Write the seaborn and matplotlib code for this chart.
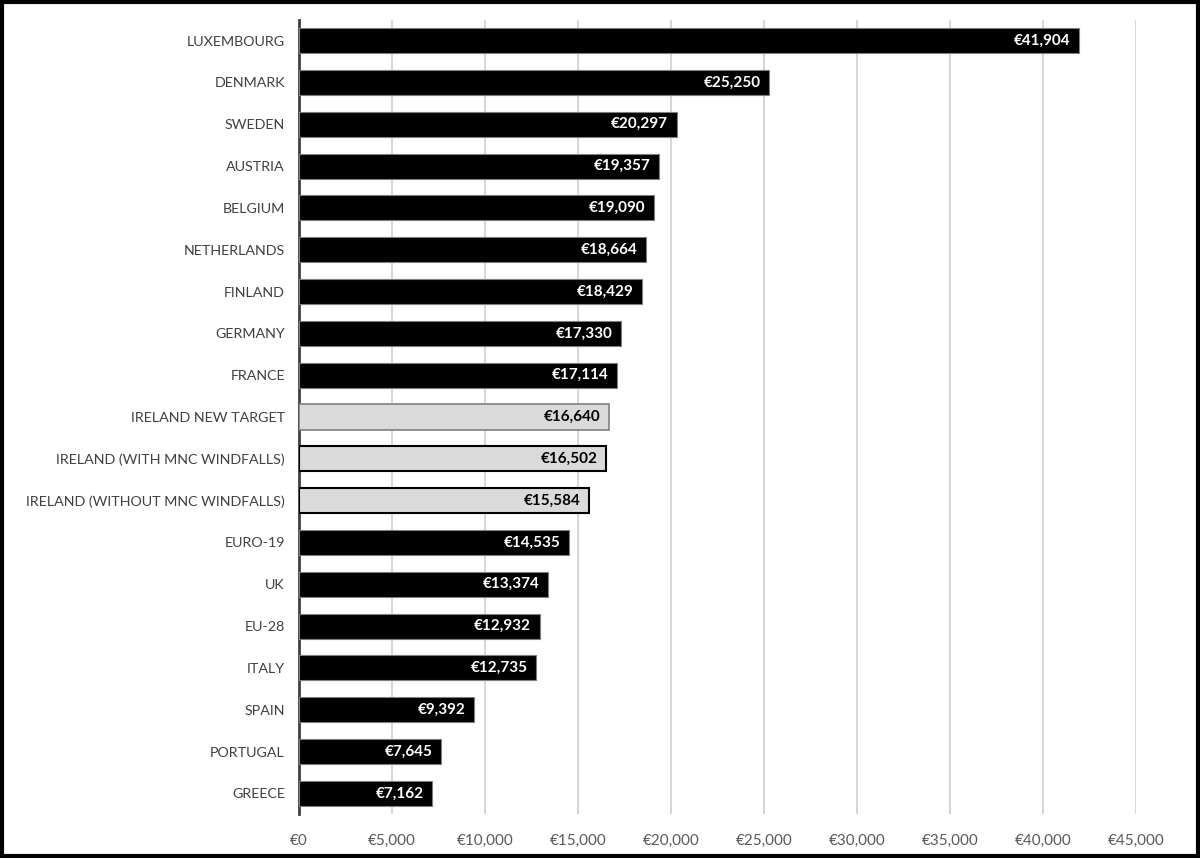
import numpy as np
import pandas as pd
import matplotlib
matplotlib.use("Agg")
import matplotlib.pyplot as plt
import seaborn as sns

# Dados
paises = [
    "LUXEMBOURG", "DENMARK", "SWEDEN", "AUSTRIA", "BELGIUM", "NETHERLANDS",
    "FINLAND", "GERMANY", "FRANCE", "IRELAND NEW TARGET",
    "IRELAND (WITH MNC WINDFALLS)", "IRELAND (WITHOUT MNC WINDFALLS)",
    "EURO-19", "UK", "EU-28", "ITALY", "SPAIN", "PORTUGAL", "GREECE",
]
valores = [
    41904, 25250, 20297, 19357, 19090, 18664, 18429, 17330, 17114, 16640,
    16502, 15584, 14535, 13374, 12932, 12735, 9392, 7645, 7162,
]
irlanda = ["IRELAND NEW TARGET", "IRELAND (WITH MNC WINDFALLS)",
           "IRELAND (WITHOUT MNC WINDFALLS)"]
x_ticks = list(range(0, 45001, 5000))

df = pd.DataFrame({"pais": paises, "valor": valores})
cores = {p: ("#dadada" if p in irlanda else "black") for p in paises}

sns.set_style("white")
plt.rcParams["font.family"] = ["Lato", "DejaVu Sans"]

fig = plt.figure(figsize=(12, 8.58), dpi=100)
ax = fig.add_axes([0.249, 0.051, 0.698, 0.926])

sns.barplot(
    data=df, x="valor", y="pais", hue="pais", palette=cores,
    order=paises, width=0.6, legend=False, ax=ax, zorder=3,
)

# Bordas das barras
for patch, p in zip(ax.patches, paises):
    if p == "IRELAND NEW TARGET":
        patch.set_edgecolor("#7f7f7f")
        patch.set_linewidth(1.2)
    elif p in irlanda:
        patch.set_edgecolor("black")
        patch.set_linewidth(1.5)
    else:
        patch.set_edgecolor("#7f7f7f")
        patch.set_linewidth(0.8)

# Rotulos de valor dentro da ponta das barras
for i, (p, v) in enumerate(zip(paises, valores)):
    ax.text(
        v - 450, i, f"€{v:,}", ha="right", va="center",
        fontsize=11, fontweight="bold",
        color="black" if p in irlanda else "white", zorder=4,
    )

ax.set_xlim(0, 45000)
ax.set_ylim(len(paises) - 0.5, -0.5)
ax.set_xticks(x_ticks)
ax.set_xticklabels([f"€{t:,}" for t in x_ticks])
ax.xaxis.grid(True, color="#d0d0d0", linewidth=1.2, zorder=0)
ax.yaxis.grid(False)
ax.set_xlabel("")
ax.set_ylabel("")
for lado in ["top", "right", "bottom"]:
    ax.spines[lado].set_visible(False)
ax.spines["left"].set_color("#404040")
ax.spines["left"].set_linewidth(2)
ax.tick_params(axis="x", length=0, pad=14, labelsize=11, labelcolor="#595959")
ax.tick_params(axis="y", length=0, pad=10, labelsize=10.3, labelcolor="#404040")

# Moldura preta ao redor da figura
fig.patches.append(plt.Rectangle((0.0015, 0.002), 0.997, 0.996, transform=fig.transFigure,
                                 fill=False, edgecolor="black", linewidth=3))

fig.savefig("out.png", dpi=100)
